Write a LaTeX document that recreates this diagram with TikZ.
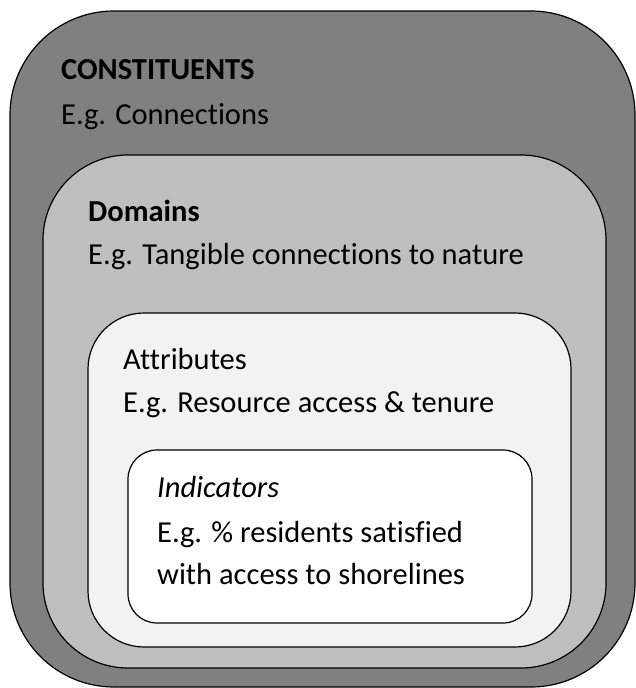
\documentclass[tikz,border=0pt]{standalone}
\usepackage{fontspec}
\setmainfont[Ligatures=NoCommon]{Carlito}
\definecolor{outergray}{HTML}{808080}
\definecolor{domgray}{HTML}{BFBFBF}
\definecolor{attgray}{HTML}{F2F2F2}
\tikzset{
  box/.style={draw=black, line width=1.2pt},
  label/.style={anchor=base west, inner sep=0pt, font=\fontsize{30.5}{36}\selectfont}
}
\begin{document}
\begin{tikzpicture}[x=1pt,y=-1pt]

\useasboundingbox (0,0) rectangle (636,688);

% Boites imbriquees
\filldraw[box, fill=outergray, rounded corners=104pt] (10,11) rectangle (635,687);
\filldraw[box, fill=domgray, rounded corners=85pt] (43,155) rectangle (606,668);
\filldraw[box, fill=attgray, rounded corners=56pt] (88,313) rectangle (571,647);
\filldraw[box, fill=white, rounded corners=29pt] (128,450) rectangle (532,623);

% Textes
\node[label] (cons) at (61,79) {\textbf{CONSTITUENTS}};
\node[label] (consex) at (61,124) {E.g. Connections};

\node[label] (dom) at (88,221) {\textbf{Domains}};
\node[label] (domex) at (88,264) {E.g. Tangible connections to nature};

\node[label] (att) at (123,369) {Attributes};
\node[label] (attex) at (123,412) {E.g. Resource access \& tenure};

\node[label] (ind) at (157,497) {\textit{Indicators}};
\node[label] (index) at (157,542) {E.g. \% residents satisfied};
\node[label] (indexb) at (157,584) {with access to shorelines};

\end{tikzpicture}
\end{document}
